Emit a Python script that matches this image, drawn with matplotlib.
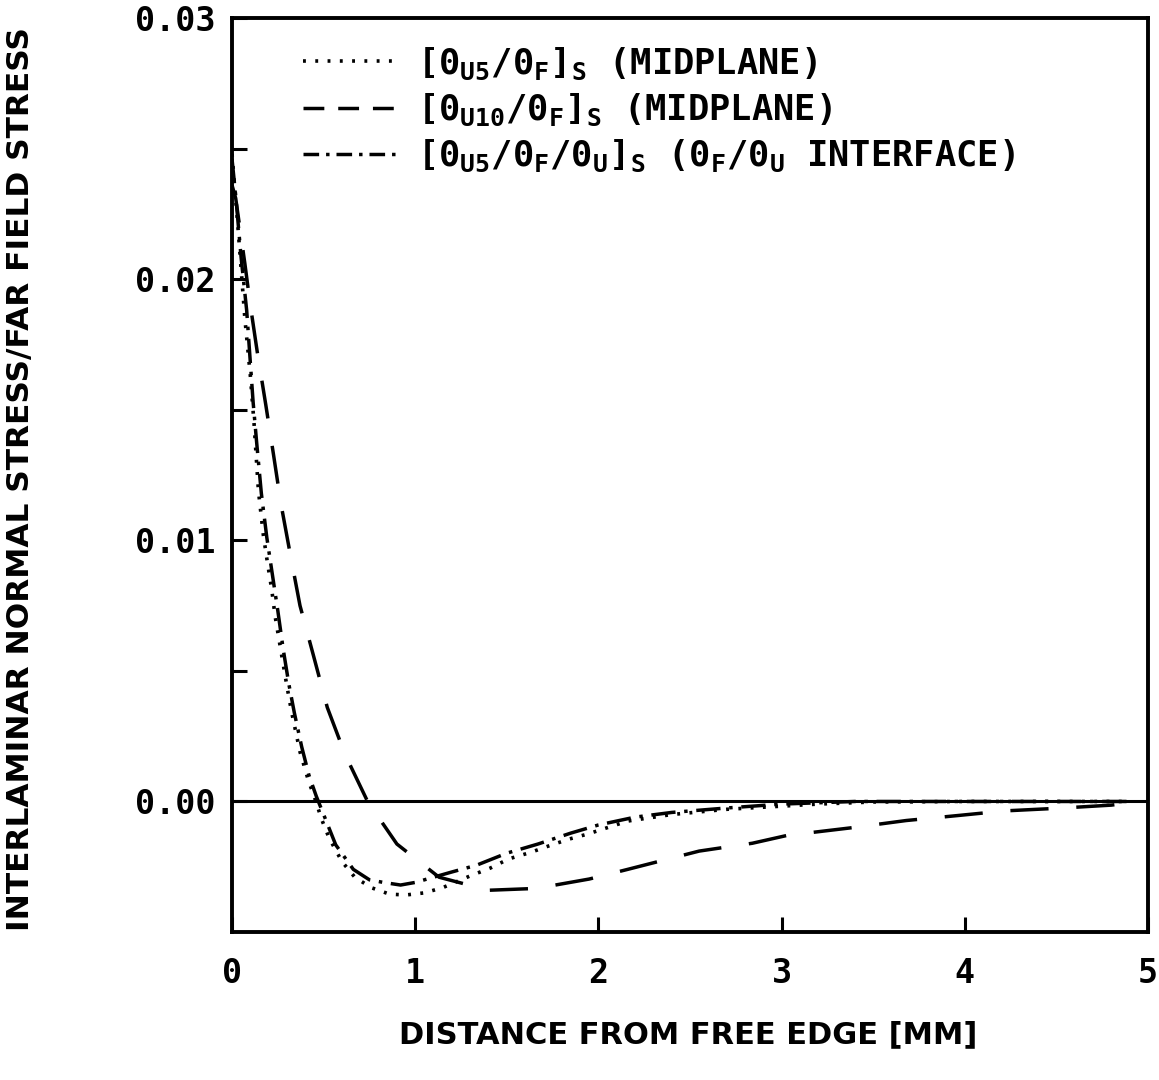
import matplotlib
matplotlib.use("Agg")
import matplotlib.pyplot as plt
from matplotlib.lines import Line2D
import numpy as np

plt.rcParams['font.family'] = 'DejaVu Sans'
plt.rcParams['font.weight'] = 'bold'
plt.rcParams['mathtext.fontset'] = 'custom'
plt.rcParams['mathtext.rm'] = 'DejaVu Sans Mono'
plt.rcParams['mathtext.bf'] = 'DejaVu Sans Mono:bold'
plt.rcParams['mathtext.default'] = 'bf'

# [0U5/0F]s midplane - dotted
x_dot = [0.0, 0.03, 0.07, 0.1, 0.12, 0.144, 0.171, 0.19, 0.217, 0.235, 0.271, 0.3,
         0.326, 0.371, 0.417, 0.453, 0.49, 0.53, 0.6, 0.67, 0.76, 0.86, 0.95,
         1.05, 1.15, 1.3, 1.41, 1.51, 1.63, 1.73, 1.84, 1.94, 2.16, 2.4, 2.7,
         3.2, 3.5, 4.0, 4.5, 4.9]
y_dot = [0.0248, 0.0222, 0.0185, 0.0163, 0.0145, 0.0119, 0.0102, 0.0093, 0.0081,
         0.0071, 0.0056, 0.0044, 0.0034, 0.0019, 0.0008, 0.0001, -0.0007, -0.0014,
         -0.0023, -0.0029, -0.0033, -0.00355, -0.00358, -0.0035, -0.0033, -0.00285,
         -0.00255, -0.0022, -0.00195, -0.0017, -0.00144, -0.00125, -0.00075,
         -0.0005, -0.0003, -0.0001, -0.00002, 0.0, 0.0, 0.0]

# [0U10/0F]s midplane - dashed
x_dash = [0.0, 0.02, 0.07, 0.1, 0.138, 0.184, 0.226, 0.267, 0.317, 0.371, 0.444,
          0.52, 0.617, 0.74, 0.9, 1.13, 1.4, 1.66, 1.95, 2.16, 2.55, 2.84, 3.03,
          3.39, 3.68, 3.96, 4.22, 4.51, 4.8, 4.96]
y_dash = [0.0236, 0.0231, 0.0206, 0.019, 0.0172, 0.0152, 0.0133, 0.0114, 0.0095,
          0.0075, 0.0056, 0.0036, 0.0018, 0.0, -0.00163, -0.0029, -0.0034, -0.00333,
          -0.00297, -0.0026, -0.0019, -0.0016, -0.0013, -0.001, -0.00073, -0.00054,
          -0.00036, -0.00026, -0.00014, 0.0]

# [0U5/0F/0U]s 0F/0U interface - dash-dot
x_dd = [0.0, 0.02, 0.05, 0.08, 0.115, 0.135, 0.16, 0.19, 0.22, 0.25, 0.28, 0.31,
        0.34, 0.38, 0.42, 0.46, 0.5, 0.566, 0.662, 0.75, 0.826, 0.92, 1.0, 1.1,
        1.2, 1.335, 1.5, 1.67, 1.85, 2.0, 2.2, 2.4, 2.7, 3.0, 3.4, 4.0, 4.5, 4.9]
y_dd = [0.0246, 0.0232, 0.0208, 0.0188, 0.0153, 0.0137, 0.0118, 0.0101, 0.0087,
        0.0073, 0.0058, 0.0045, 0.0034, 0.0021, 0.001, 0.0002, -0.0005, -0.00166,
        -0.0026, -0.003, -0.0031, -0.0032, -0.0031, -0.0029, -0.0027, -0.00244,
        -0.00198, -0.00163, -0.00121, -0.0009, -0.0006, -0.00042, -0.00025,
        -0.0001, 0.0, 0.0, 0.0, 0.0]

labels = [r'$[0_{U5}/0_F]_S$ (MIDPLANE)',
          r'$[0_{U10}/0_F]_S$ (MIDPLANE)',
          r'$[0_{U5}/0_F/0_U]_S$ $(0_F/0_U$ INTERFACE)']

fig = plt.figure(figsize=(11.59, 10.80), dpi=100, facecolor='white')
ax = fig.add_axes([0.2002, 0.137, 0.7903, 0.8463])

ax.plot(x_dot, y_dot, color='k', lw=2.6, linestyle=(0, (0.8, 2.6)))
ax.plot(x_dash, y_dash, color='k', lw=2.5, linestyle=(0, (11, 8)))
ax.plot(x_dd, y_dd, color='k', lw=2.5, linestyle=(0, (7, 2.5, 1, 2.5)))

ax.axhline(0, color='k', lw=2.2)

ax.set_xlim(0, 5)
ax.set_ylim(-0.005, 0.03)

ax.set_xticks([0, 1, 2, 3, 4, 5])
ax.set_xticklabels(['0', '1', '2', '3', '4', '5'])
ax.set_yticks([0.0, 0.01, 0.02, 0.03])
ax.set_yticklabels(['0.00', '0.01', '0.02', '0.03'])
ax.set_yticks(np.arange(0.005, 0.03, 0.01), minor=True)

ax.tick_params(axis='both', which='both', direction='in', width=2.2, length=11)
ax.tick_params(axis='x', pad=18, labelsize=24)
ax.tick_params(axis='y', pad=12, labelsize=24)
for lab in ax.get_xticklabels() + ax.get_yticklabels():
    lab.set_fontfamily('DejaVu Sans Mono')
    lab.set_fontweight('bold')

for sp in ax.spines.values():
    sp.set_linewidth(2.8)

# legend keys drawn with the short dash patterns of the original key
h1 = Line2D([], [], color='k', lw=2.6, linestyle=(0, (0.8, 2.6)))
h2 = Line2D([], [], color='k', lw=2.5, linestyle=(0, (6, 4)))
h3 = Line2D([], [], color='k', lw=2.5, linestyle=(0, (4.5, 2, 1, 2)))
leg = ax.legend([h1, h2, h3], labels, loc='upper left',
                bbox_to_anchor=(0.078, 0.97), frameon=False,
                borderaxespad=0, borderpad=0,
                handlelength=2.75, handletextpad=0.45, labelspacing=0.28,
                prop={'family': 'DejaVu Sans Mono', 'size': 25.5, 'weight': 'bold'})

fig.text(0.018, 0.556, 'INTERLAMINAR NORMAL STRESS/FAR FIELD STRESS',
         rotation=90, ha='center', va='center', fontsize=22.5, fontweight='bold')
fig.text(0.5936, 0.042, 'DISTANCE FROM FREE EDGE [MM]',
         ha='center', va='center', fontsize=22, fontweight='bold')

fig.savefig('out.png', dpi=100, facecolor='white')
